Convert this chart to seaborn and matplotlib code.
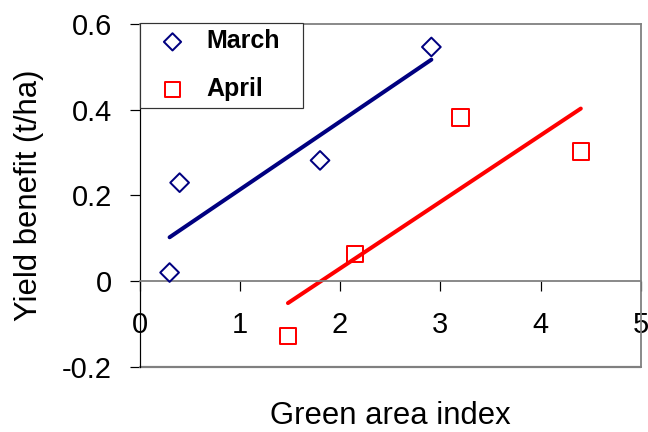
import matplotlib
matplotlib.use("Agg")
import matplotlib.pyplot as plt
import seaborn as sns
import pandas as pd

# Data
march_gai = [0.30, 0.40, 1.80, 2.91]
march_yield = [0.020, 0.230, 0.282, 0.547]
april_gai = [1.48, 2.15, 3.20, 4.40]
april_yield = [-0.128, 0.064, 0.382, 0.303]

x_ticks = [0, 1, 2, 3, 4, 5]
x_tick_labels = ["0", "1", "2", "3", "4", "5"]
y_ticks = [-0.2, 0.0, 0.2, 0.4, 0.6]
y_tick_labels = ["-0.2", "0", "0.2", "0.4", "0.6"]

x_label = "Green area index"
y_label = "Yield benefit (t/ha)"

march_df = pd.DataFrame({"gai": march_gai, "yield": march_yield})
april_df = pd.DataFrame({"gai": april_gai, "yield": april_yield})

sns.set_theme(style="white")
plt.rcParams["font.family"] = ["Liberation Sans", "DejaVu Sans"]
plt.rcParams["text.color"] = "black"
plt.rcParams["axes.labelcolor"] = "black"
plt.rcParams["xtick.color"] = "black"
plt.rcParams["ytick.color"] = "black"
plt.rcParams["xtick.labelcolor"] = "black"
plt.rcParams["ytick.labelcolor"] = "black"

NAVY = "#000080"
RED = "#FF0000"
GRAY = "#808080"

fig = plt.figure(figsize=(9, 6), dpi=72)
ax = fig.add_axes([139.5 / 648, 1 - 366.7 / 432, 501.5 / 648, 342.4 / 432])

sns.regplot(data=march_df, x="gai", y="yield", ax=ax, ci=None, marker="D",
            truncate=True, label="March",
            scatter_kws=dict(s=175, facecolors="none", edgecolors=NAVY,
                             color=NAVY, linewidths=2, alpha=1, zorder=3),
            line_kws=dict(color=NAVY, lw=4, solid_capstyle="round", zorder=2))
sns.regplot(data=april_df, x="gai", y="yield", ax=ax, ci=None, marker="s",
            truncate=True, label="April",
            scatter_kws=dict(s=266, facecolors="none", edgecolors=RED,
                             color=RED, linewidths=2, alpha=1, zorder=3),
            line_kws=dict(color=RED, lw=4, solid_capstyle="round", zorder=2))

ax.set_xlim(0, 5)
ax.set_ylim(-0.2, 0.6)
ax.set_xticks(x_ticks)
ax.set_xticklabels(x_tick_labels)
ax.set_yticks(y_ticks)
ax.set_yticklabels(y_tick_labels)
ax.grid(False)

# Spines
ax.spines["left"].set_color("black")
ax.spines["left"].set_linewidth(1.2)
ax.spines["bottom"].set_position(("data", 0))
ax.spines["bottom"].set_color(GRAY)
ax.spines["bottom"].set_linewidth(1.8)
for side in ["top", "right"]:
    ax.spines[side].set_visible(True)
    ax.spines[side].set_color(GRAY)
    ax.spines[side].set_linewidth(1.8)
ax.plot([0, 1], [0, 0], transform=ax.transAxes, color=GRAY, lw=2.2,
        clip_on=False, zorder=1)

ax.tick_params(axis="y", direction="out", length=10.5, width=1.2,
               color="black", labelcolor="black", pad=17, labelsize=29,
               left=True)
ax.tick_params(axis="x", direction="out", length=10, width=1.2,
               color="black", labelcolor="black", pad=20, labelsize=29,
               bottom=True)

ax.set_xlabel(x_label, fontsize=31, color="black")
ax.set_ylabel(y_label, fontsize=31, color="black")
ax.xaxis.set_label_coords(0.5, -0.10)
ax.yaxis.set_label_coords(-0.19, 0.5)

leg = ax.legend(loc="upper left", bbox_to_anchor=(0, 1.004, 0.327, 0.0),
                mode="expand", borderaxespad=0, frameon=True, fancybox=False,
                framealpha=1, edgecolor="#333333", borderpad=0.26,
                labelspacing=0.96, handlelength=2.12, handletextpad=0.3,
                markerscale=0.92, prop=dict(size=25, weight="bold"))
leg.get_frame().set_linewidth(1.2)
for t in leg.get_texts():
    t.set_color("black")

fig.savefig("out.png", dpi=72)
